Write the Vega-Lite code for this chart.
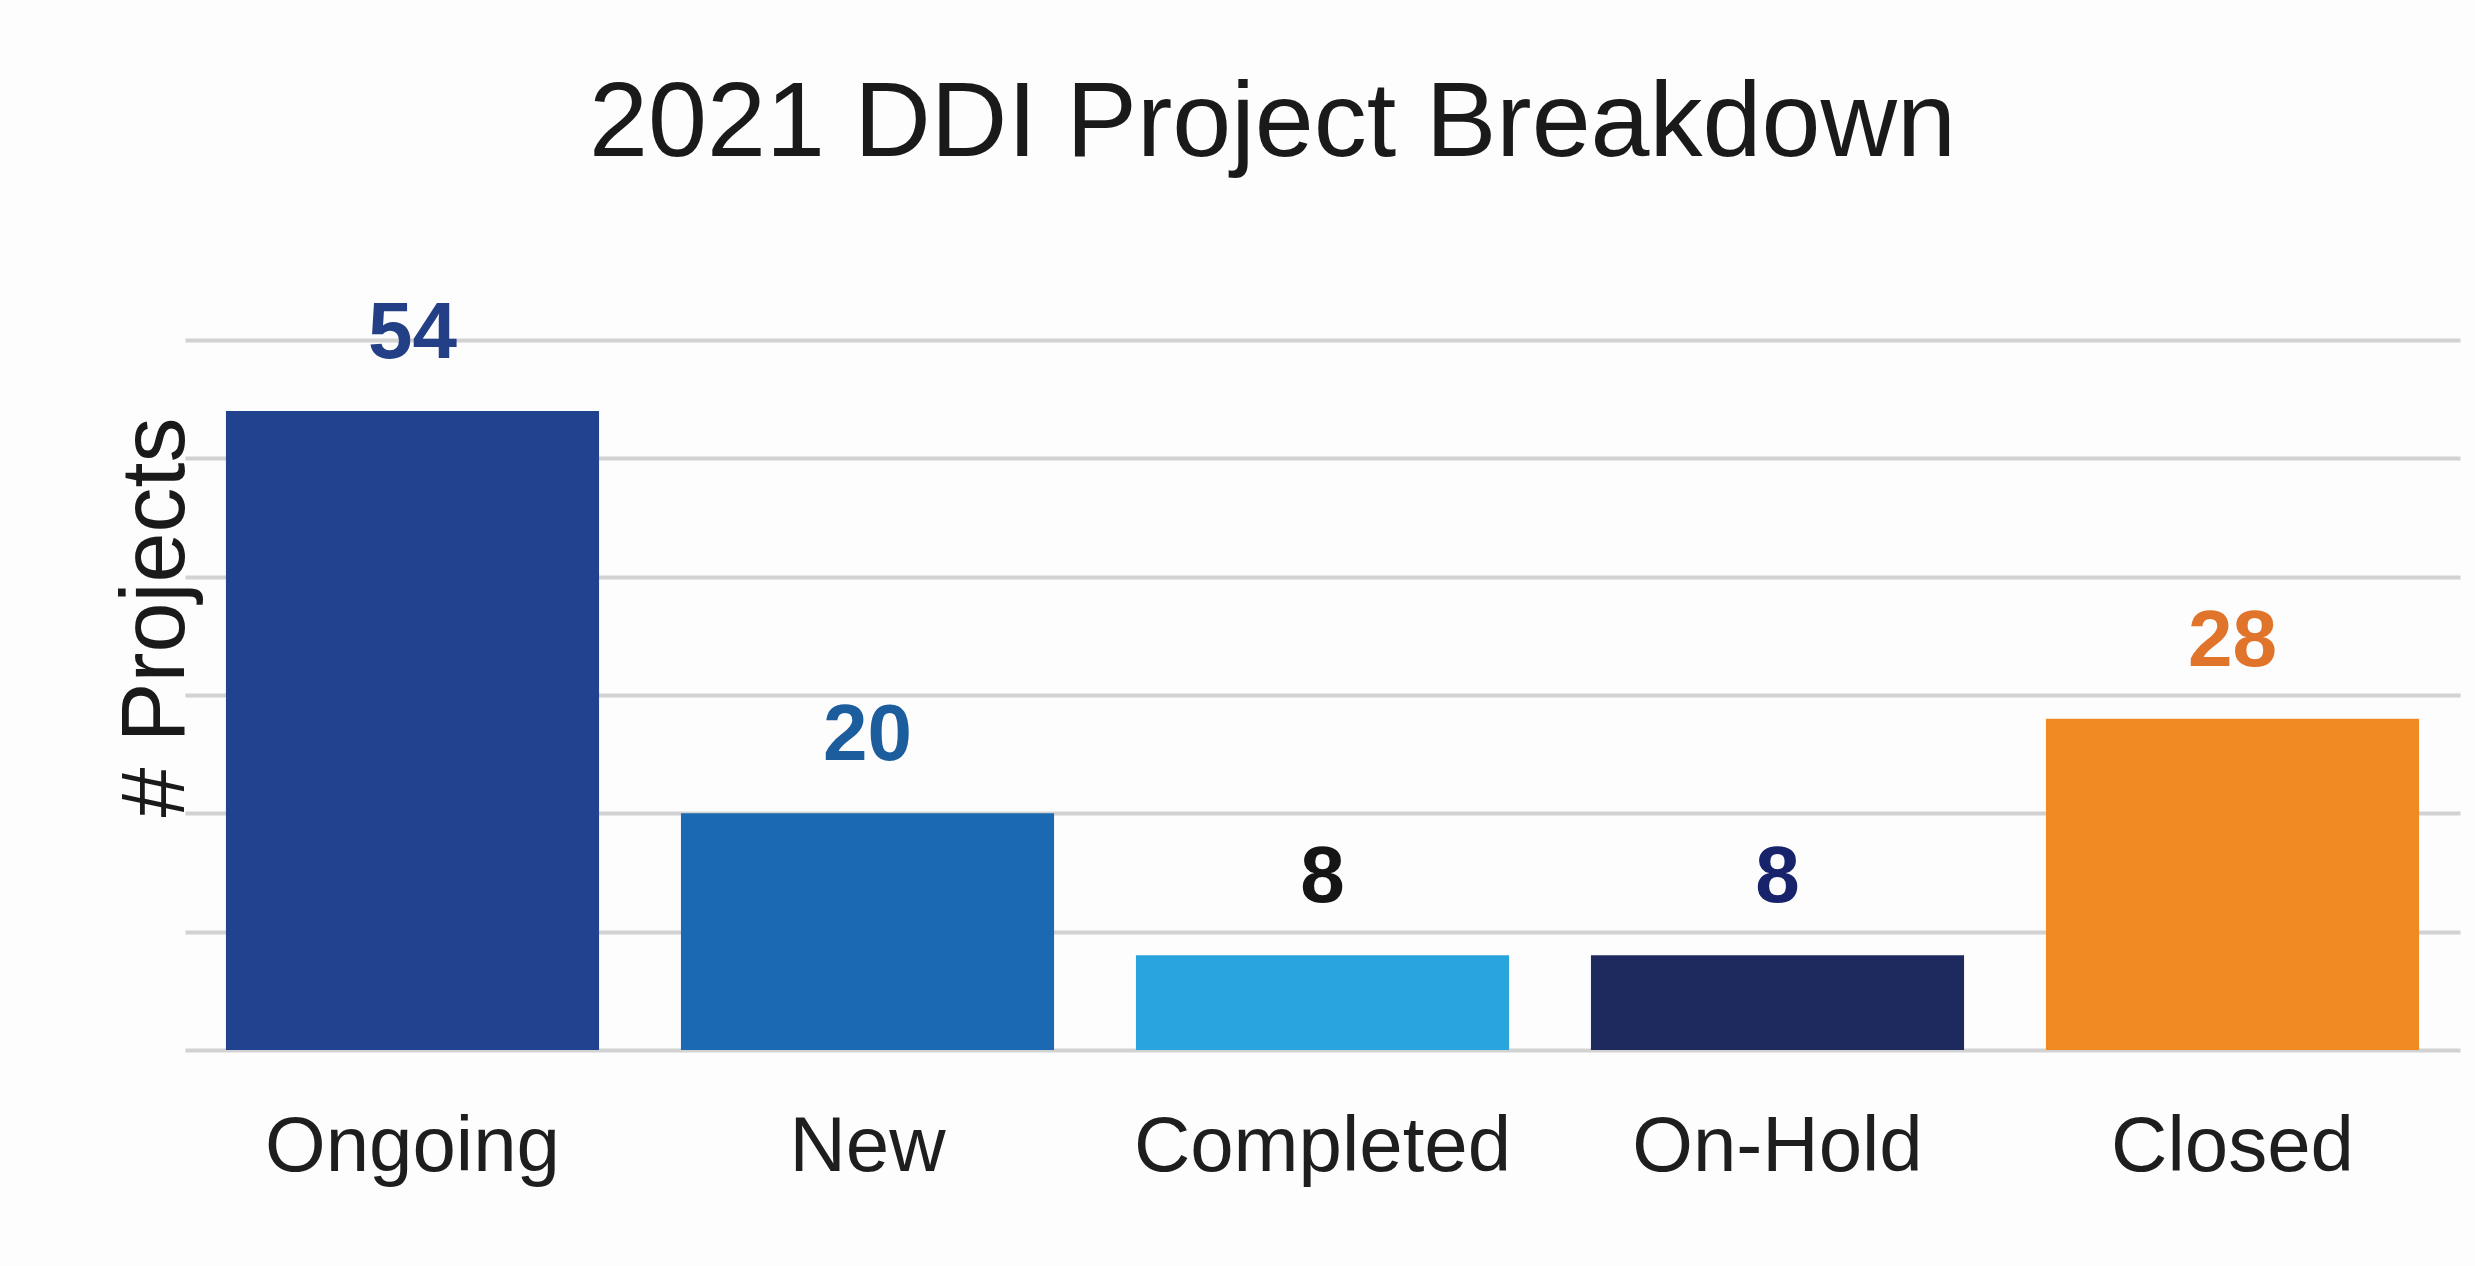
{
  "$schema": "https://vega.github.io/schema/vega-lite/v6.json",
  "width": 2275,
  "height": 710,
  "autosize": {"type": "none"},
  "padding": {"left": 185, "top": 340, "right": 15, "bottom": 216},
  "background": "#fdfdfd",
  "title": {
    "text": "2021 DDI Project Breakdown",
    "fontSize": 106,
    "font": "Liberation Sans",
    "fontWeight": "normal",
    "color": "#1a1a1a",
    "anchor": "middle",
    "dx": -50,
    "offset": 116
  },
  "data": {
    "values": [
      {"status": "Ongoing", "projects": 54},
      {"status": "New", "projects": 20},
      {"status": "Completed", "projects": 8},
      {"status": "On-Hold", "projects": 8},
      {"status": "Closed", "projects": 28}
    ]
  },
  "config": {
    "view": {"stroke": null},
    "font": "Liberation Sans"
  },
  "encoding": {
    "x": {
      "field": "status",
      "type": "nominal",
      "sort": null,
      "scale": {"paddingInner": 0.18, "paddingOuter": 0.09},
      "axis": {
        "title": null,
        "labelAngle": 0,
        "labelFontSize": 78,
        "labelColor": "#1e1e1e",
        "labelFont": "Liberation Sans",
        "labelLimit": 0,
        "ticks": false,
        "tickSize": 0,
        "domain": false,
        "labelPadding": 58
      }
    },
    "y": {
      "field": "projects",
      "type": "quantitative",
      "scale": {"domain": [0, 60], "nice": false},
      "axis": {
        "values": [0, 10, 20, 30, 40, 50, 60],
        "labels": false,
        "ticks": false,
        "domain": false,
        "grid": true,
        "gridColor": "#d2d2d2",
        "gridWidth": 4,
        "title": "# Projects",
        "titleFontSize": 90,
        "titleFontWeight": "normal",
        "titleColor": "#1a1a1a",
        "titleFont": "Liberation Sans",
        "titleBaseline": "alphabetic",
        "titlePadding": 2,
        "titleY": 277
      }
    }
  },
  "layer": [
    {
      "mark": {"type": "bar"},
      "encoding": {
        "color": {
          "field": "status",
          "type": "nominal",
          "legend": null,
          "scale": {
            "domain": ["Ongoing", "New", "Completed", "On-Hold", "Closed"],
            "range": ["#20428f", "#1b69b2", "#2aa4dc", "#1e2a5d", "#f28a24"]
          }
        }
      }
    },
    {
      "mark": {"type": "text", "baseline": "alphabetic", "dy": -53, "fontSize": 80, "fontWeight": "bold", "font": "Liberation Sans"},
      "encoding": {
        "text": {"field": "projects", "type": "quantitative"},
        "color": {
          "field": "status",
          "type": "nominal",
          "legend": null,
          "scale": {
            "domain": ["Ongoing", "New", "Completed", "On-Hold", "Closed"],
            "range": ["#233f86", "#1c5d9e", "#151515", "#17236a", "#e0742a"]
          }
        }
      }
    }
  ],
  "resolve": {"scale": {"color": "independent"}}
}
